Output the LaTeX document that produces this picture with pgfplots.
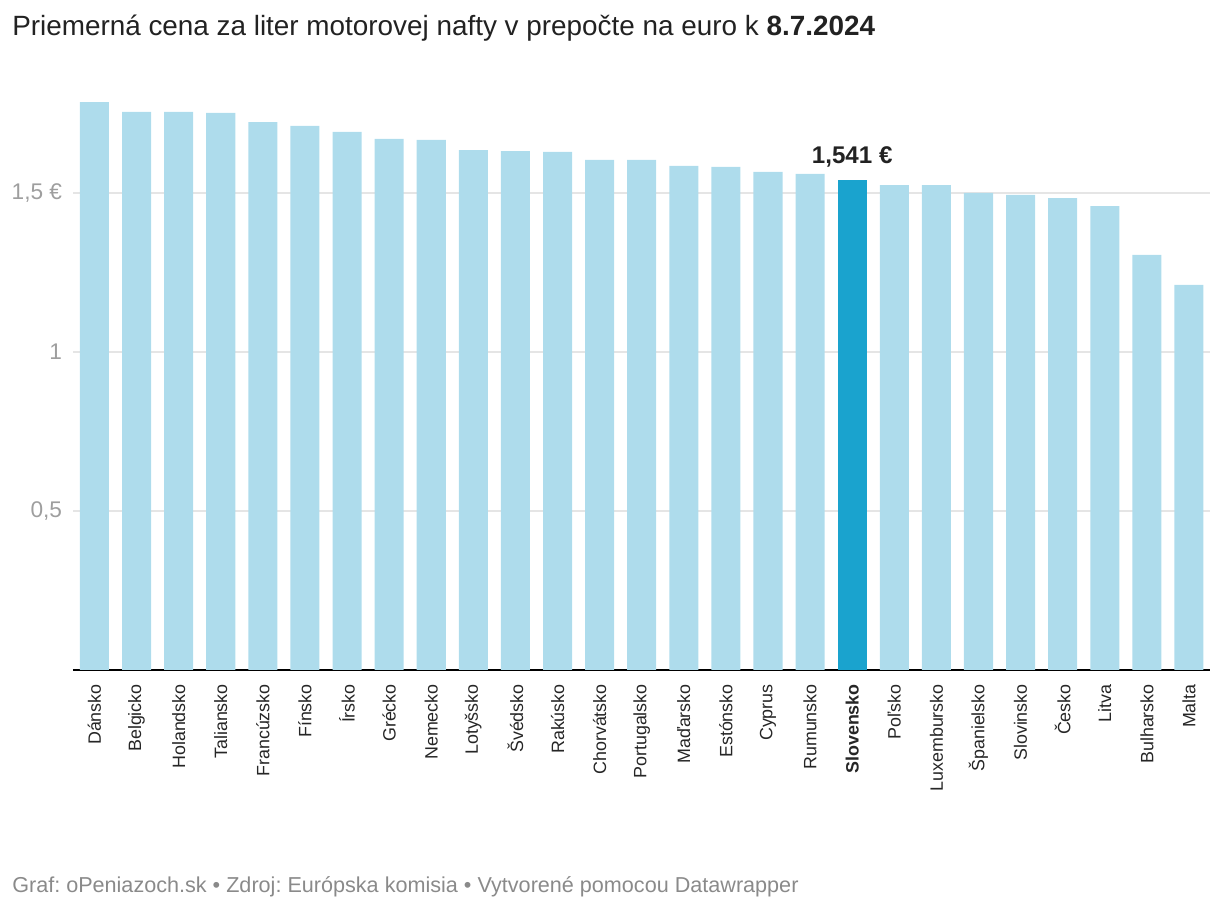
\documentclass[border=0pt]{standalone}
\usepackage{pgfplots}
\pgfplotsset{compat=1.18}
\usepackage{fontspec}
\setmainfont{Liberation Sans}
\definecolor{barlight}{HTML}{AEDCEC}
\definecolor{bardark}{HTML}{1AA3CE}
\definecolor{gridc}{HTML}{E5E5E5}
\definecolor{tickc}{HTML}{9E9E9E}
\definecolor{footc}{HTML}{8A8A8A}
\definecolor{titlec}{HTML}{222222}
\frenchspacing
\begin{document}
\begin{tikzpicture}[x=1pt,y=1pt]
\path[use as bounding box] (0,0) rectangle (915,684);
\node[anchor=base west, inner sep=0pt, text=titlec, font=\fontsize{20.9pt}{22pt}\selectfont] at (9,657) {Priemerná cena za liter motorovej nafty v prepočte na euro k \textbf{8.7.2024}};
\node[anchor=base west, inner sep=0pt, text=footc, font=\fontsize{16.2pt}{18pt}\selectfont] at (9,14.5) {Graf: oPeniazoch.sk • Zdroj: Európska komisia • Vytvorené pomocou Datawrapper};
\begin{axis}[
  at={(54.75pt,181.5pt)}, anchor=south west,
  scale only axis, width=852.75pt, height=429.3pt,
  xmin=-0.51, xmax=26.5, ymin=0, ymax=1.8,
  axis x line*=bottom, axis y line*=left,
  y axis line style={draw=none},
  x axis line style={black, line width=1.4pt},
  major tick length=0pt,
  ytick={0.5,1,1.5},
  yticklabels={{0,5},{1},{1,5 €}},
  yticklabel style={text=tickc, font=\fontsize{17pt}{18pt}\selectfont, inner sep=0pt},
  yticklabel shift=8pt,
  ymajorgrids, grid style={gridc, line width=1.3pt},
  xtick={0,...,26},
  xticklabels={Dánsko,Belgicko,Holandsko,Taliansko,Francúzsko,Fínsko,Írsko,Grécko,Nemecko,Lotyšsko,Švédsko,Rakúsko,Chorvátsko,Portugalsko,Maďarsko,Estónsko,Cyprus,Rumunsko,\textbf{Slovensko},Poľsko,Luxembursko,Španielsko,Slovinsko,Česko,Litva,Bulharsko,Malta},
  xticklabel style={rotate=90, anchor=east, inner sep=0pt, text=black!85, font=\fontsize{13.4pt}{14pt}\selectfont},
  xticklabel shift=10.5pt,
  ybar, bar width=0.69, bar shift=0pt,
  clip=false,
]
\addplot[fill=barlight, draw=none] coordinates {
(0,1.786) (1,1.755) (2,1.755) (3,1.752) (4,1.723) (5,1.711) (6,1.692) (7,1.670) (8,1.667)
(9,1.635) (10,1.632) (11,1.629) (12,1.604) (13,1.604) (14,1.585) (15,1.582) (16,1.566)
(17,1.560) (19,1.525) (20,1.525) (21,1.500) (22,1.494) (23,1.484) (24,1.459) (25,1.305) (26,1.211)
};
\addplot[fill=bardark, draw=none,
  nodes near coords={\textbf{1,541 €}},
  every node near coord/.append style={anchor=base, yshift=12pt, text=titlec, font=\fontsize{18.1pt}{19pt}\selectfont}
] coordinates {(18,1.541)};
\end{axis}
\end{tikzpicture}
\end{document}
